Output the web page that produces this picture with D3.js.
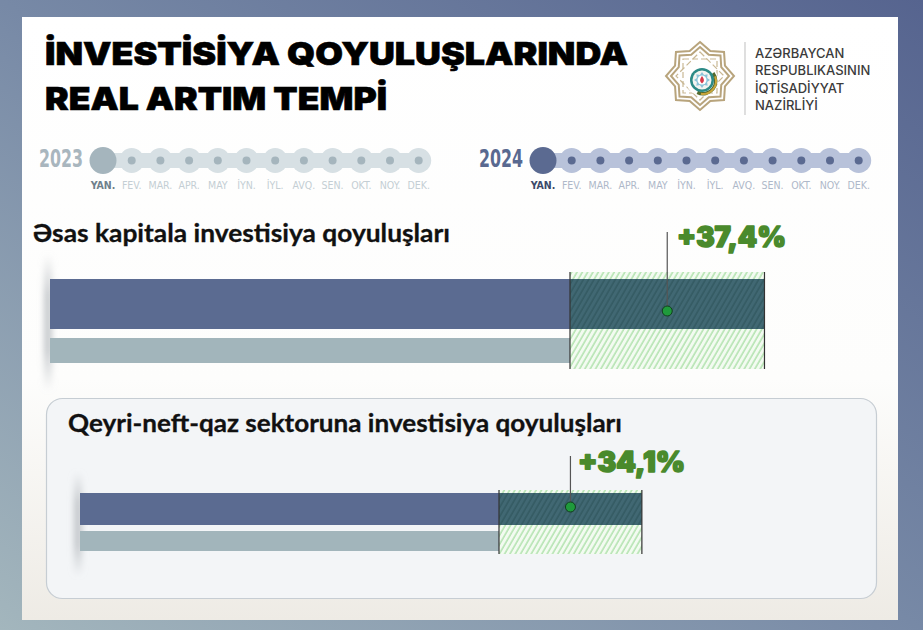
<!DOCTYPE html>
<html><head><meta charset="utf-8">
<script src="https://cdn.jsdelivr.net/npm/d3@7"></script>
<style>body{margin:0;background:#fff;} svg{display:block;}</style>
</head><body><svg id="c" width="923" height="630"></svg>
<script>
// ---------- data ----------
const titleLines = ["İNVESTİSİYA QOYULUŞLARINDA", "REAL ARTIM TEMPİ"];
const ministryLines = ["AZƏRBAYCAN", "RESPUBLIKASININ", "İQTİSADİYYAT", "NAZİRLİYİ"];
const years = ["2023", "2024"];
const months = ["YAN.", "FEV.", "MAR.", "APR.", "MAY", "İYN.", "İYL.", "AVQ.", "SEN.", "OKT.", "NOY.", "DEK."];
const monthsCovered = [1, 1];
const categories = ["Əsas kapitala investisiya qoyuluşları", "Qeyri-neft-qaz sektoruna investisiya qoyuluşları"];
const value2023 = [100, 100];
const value2024 = [137.4, 134.1];
const growthLabels = ["+37,4%", "+34,1%"];

// ---------- layout ----------
const W = 923, H = 630;
const svg = d3.select("#c");
const defs = svg.append("defs");

const frameGrad = defs.append("linearGradient").attr("id", "frame")
  .attr("x1", "0").attr("y1", "1").attr("x2", "1").attr("y2", "0");
frameGrad.append("stop").attr("offset", "0").attr("stop-color", "#a3b6bd");
frameGrad.append("stop").attr("offset", "0.5").attr("stop-color", "#7789a6");
frameGrad.append("stop").attr("offset", "1").attr("stop-color", "#56648f");

const cardGrad = defs.append("linearGradient").attr("id", "card")
  .attr("x1", "0").attr("y1", "0").attr("x2", "0").attr("y2", "1");
cardGrad.append("stop").attr("offset", "0").attr("stop-color", "#ffffff");
cardGrad.append("stop").attr("offset", "0.6").attr("stop-color", "#fdfdfc");
cardGrad.append("stop").attr("offset", "1").attr("stop-color", "#eeebe5");

function hatch(id, bg, line) {
  const p = defs.append("pattern").attr("id", id).attr("patternUnits", "userSpaceOnUse")
    .attr("width", 4.6).attr("height", 10).attr("patternTransform", "rotate(30)");
  p.append("rect").attr("width", 4.6).attr("height", 10).attr("fill", bg);
  p.append("line").attr("x1", 1).attr("x2", 1).attr("y1", 0).attr("y2", 10)
    .attr("stroke", line).attr("stroke-width", 1.3);
}
hatch("hatchLight", "#f3fbf1", "#a8dea4");
hatch("hatchDark", "#416873", "#31585f");

const blur = defs.append("filter").attr("id", "blur").attr("x", "-200%").attr("width", "500%");
blur.append("feGaussianBlur").attr("stdDeviation", 3);
const shGrad = defs.append("linearGradient").attr("id", "shadow")
  .attr("x1", "0").attr("y1", "0").attr("x2", "0").attr("y2", "1");
shGrad.append("stop").attr("offset", "0").attr("stop-color", "#b8bcc0").attr("stop-opacity", 0);
shGrad.append("stop").attr("offset", "0.3").attr("stop-color", "#b8bcc0").attr("stop-opacity", 0.8);
shGrad.append("stop").attr("offset", "0.7").attr("stop-color", "#b8bcc0").attr("stop-opacity", 0.8);
shGrad.append("stop").attr("offset", "1").attr("stop-color", "#b8bcc0").attr("stop-opacity", 0);

// frame and card
svg.append("rect").attr("width", W).attr("height", H).attr("fill", "url(#frame)");
svg.append("rect").attr("x", 22).attr("y", 17).attr("width", 876).attr("height", 603).attr("fill", "url(#card)");

// ---------- title ----------
const titleW = [583, 342];
svg.selectAll("text.title").data(titleLines).join("text")
  .attr("class", "title")
  .attr("x", 45).attr("y", (d, i) => 65 + i * 45)
  .attr("font-family", "Inter, Lato, sans-serif").attr("font-weight", 900)
  .attr("font-size", 32).attr("fill", "#000")
  .attr("stroke", "#000").attr("stroke-width", 0.6)
  .attr("textLength", (d, i) => titleW[i]).attr("lengthAdjust", "spacingAndGlyphs")
  .text(d => d);

// ---------- logo ----------
const logo = svg.append("g").attr("transform", "translate(700,76)");
function starPts(ro, ri) {
  const pts = [];
  for (let k = 0; k < 16; k++) {
    const a = Math.PI / 8 * k - Math.PI / 2;
    const r = k % 2 === 0 ? ro : ri;
    pts.push([r * Math.cos(a), r * Math.sin(a)]);
  }
  return pts;
}
const lineGen = d3.line().curve(d3.curveLinearClosed);
[[34, 27], [29, 23]].forEach(([ro, ri]) => {
  logo.append("path").attr("d", lineGen(starPts(ro, ri)))
    .attr("fill", "none").attr("stroke", "#b8a47c").attr("stroke-width", 2);
});
[0, 45].forEach(rot => {
  logo.append("rect").attr("x", -17).attr("y", -17).attr("width", 34).attr("height", 34)
    .attr("transform", `rotate(${rot})`).attr("fill", "none")
    .attr("stroke", "#c9b894").attr("stroke-width", 1.2).attr("stroke-dasharray", "6 3");
});
logo.append("circle").attr("cx", 2).attr("cy", 4).attr("r", 16).attr("fill", "#fff");
logo.append("path")
  .attr("d", d3.arc()({innerRadius: 11, outerRadius: 14.5, startAngle: 0.9, endAngle: 3.6}))
  .attr("transform", "translate(3,5)").attr("fill", "#556b2f");
logo.append("path")
  .attr("d", d3.arc()({innerRadius: 12, outerRadius: 14, startAngle: 1.2, endAngle: 3.3}))
  .attr("transform", "translate(3,5)").attr("fill", "#c9a53a");
logo.append("circle").attr("cx", 2).attr("cy", 4).attr("r", 12).attr("fill", "#2c8a86");
logo.append("circle").attr("cx", 2).attr("cy", 4).attr("r", 9.5).attr("fill", "#f4f4f0");
logo.append("path").attr("d", lineGen(starPts(8, 5.5)))
  .attr("transform", "translate(2,4)").attr("fill", "#8cc4d8");
logo.append("circle").attr("cx", 2).attr("cy", 4).attr("r", 4.5).attr("fill", "#fff");
logo.append("path").attr("d", "M2,0 C4,3 5,5 2,7.5 C-1,5 0,3 2,0 Z").attr("fill", "#d9394a");

svg.append("line").attr("x1", 745).attr("x2", 745).attr("y1", 42).attr("y2", 115)
  .attr("stroke", "#c9c9c9").attr("stroke-width", 1.2);
svg.selectAll("text.min").data(ministryLines).join("text")
  .attr("class", "min")
  .attr("x", 755).attr("y", (d, i) => 58 + i * 17.4)
  .attr("font-family", "Inter, 'Noto Sans', sans-serif").attr("font-weight", 500)
  .attr("font-size", 13).attr("fill", "#3b3b3b")
  .text(d => d);

// ---------- timelines ----------
const tlStyles = [
  {start: 103, big: "#a5b5bd", chain: "#d7e0e4", year: "#a9b6be", act: "#6f808b", off: "#c4ced4"},
  {start: 543, big: "#5b6a91", chain: "#b8c2da", year: "#596990", act: "#3c4969", off: "#aeb8c9"}
];
years.forEach((yr, yi) => {
  const st = tlStyles[yi];
  const xm = d3.scalePoint().domain(months).range([st.start, st.start + 11 * 28.7]);
  const g = svg.append("g");
  g.append("text").attr("x", st.start - 20).attr("y", 167).attr("text-anchor", "end")
    .attr("font-family", "'Liberation Sans Narrow', 'DejaVu Sans Condensed', sans-serif")
    .attr("font-weight", 700).attr("font-size", 24).attr("fill", st.year)
    .attr("textLength", 44).attr("lengthAdjust", "spacingAndGlyphs").text(yr);
  g.append("rect").attr("x", xm(months[0])).attr("y", 153).attr("width", xm(months[11]) - xm(months[0]))
    .attr("height", 15).attr("fill", st.chain);
  g.selectAll("circle.ch").data(months.filter((m, i) => i >= monthsCovered[yi])).join("circle")
    .attr("cx", d => xm(d)).attr("cy", 160.5).attr("r", 12.5).attr("fill", st.chain);
  g.selectAll("circle.dot").data(months.filter((m, i) => i >= monthsCovered[yi])).join("circle")
    .attr("cx", d => xm(d)).attr("cy", 160.5).attr("r", 4).attr("fill", st.big);
  g.selectAll("circle.big").data(months.filter((m, i) => i < monthsCovered[yi])).join("circle")
    .attr("cx", d => xm(d)).attr("cy", 160.5).attr("r", 13.5).attr("fill", st.big);
  g.selectAll("text.m").data(months).join("text")
    .attr("x", d => xm(d)).attr("y", 189).attr("text-anchor", "middle")
    .attr("font-family", "'Liberation Sans Narrow', 'DejaVu Sans Condensed', sans-serif")
    .attr("font-weight", (d, i) => i < monthsCovered[yi] ? 700 : 400)
    .attr("font-size", 10.5)
    .attr("fill", (d, i) => i < monthsCovered[yi] ? st.act : st.off)
    .text(d => d);
});

// ---------- second panel ----------
svg.append("rect").attr("x", 46.5).attr("y", 398.5).attr("width", 830).attr("height", 200)
  .attr("rx", 16).attr("fill", "#f3f5f7").attr("stroke", "#c6cdd3").attr("stroke-width", 1.2);

// ---------- bar charts ----------
const charts = [
  {x0: 50, x100: 570, darkY: 279, darkH: 50, greyY: 338, greyH: 25, hTop: 272, hBot: 369,
   markerY: 311, lineTop: 232, labelX: 677, labelY: 247, labelW: 109, titleX: 33, titleY: 242, titleW: 417},
  {x0: 80, x100: 499, darkY: 493, darkH: 32, greyY: 531, greyH: 20, hTop: 490, hBot: 554,
   markerY: 507, lineTop: 456, labelX: 578, labelY: 472, labelW: 107, titleX: 68, titleY: 432, titleW: 554}
];

categories.forEach((cat, i) => {
  const c = charts[i];
  const x = d3.scaleLinear().domain([0, 100]).range([c.x0, c.x100]);
  const g = svg.append("g");
  g.append("text").attr("x", c.titleX).attr("y", c.titleY)
    .attr("font-family", "Lato, Inter, sans-serif").attr("font-weight", 700)
    .attr("font-size", 24).attr("fill", "#111")
    .attr("stroke", "#111").attr("stroke-width", 0.3)
    .attr("textLength", c.titleW).attr("lengthAdjust", "spacingAndGlyphs").text(cat);

  // left soft shadow
  g.append("rect").attr("x", x(0) - 6).attr("y", c.hTop - 18).attr("width", 8)
    .attr("height", c.hBot - c.hTop + 40).attr("fill", "url(#shadow)").attr("filter", "url(#blur)");

  const x1 = x(value2023[i]), x2 = x(value2024[i]);
  g.append("rect").attr("x", x(0)).attr("y", c.greyY).attr("width", x1 - x(0)).attr("height", c.greyH)
    .attr("fill", "#a2b5bb");
  g.append("rect").attr("x", x(0)).attr("y", c.darkY).attr("width", x1 - x(0)).attr("height", c.darkH)
    .attr("fill", "#5b6b91");
  g.append("rect").attr("x", x1).attr("y", c.hTop).attr("width", x2 - x1).attr("height", c.hBot - c.hTop)
    .attr("fill", "url(#hatchLight)");
  g.append("rect").attr("x", x1).attr("y", c.darkY).attr("width", x2 - x1).attr("height", c.darkH)
    .attr("fill", "url(#hatchDark)");
  [x1, x2].forEach(xx => g.append("line").attr("x1", xx).attr("x2", xx).attr("y1", c.hTop).attr("y2", c.hBot)
    .attr("stroke", "#333").attr("stroke-width", 1.2));

  const mx = (x1 + x2) / 2;
  g.append("line").attr("x1", mx).attr("x2", mx).attr("y1", c.lineTop).attr("y2", c.markerY)
    .attr("stroke", "#555").attr("stroke-width", 1.2);
  g.append("circle").attr("cx", mx).attr("cy", c.markerY).attr("r", 5)
    .attr("fill", "#1f9a3c").attr("stroke", "#123d1e").attr("stroke-width", 1);
  g.append("text").attr("x", c.labelX).attr("y", c.labelY)
    .attr("font-family", "Inter, Lato, sans-serif").attr("font-weight", 900)
    .attr("font-size", 28).attr("fill", "#4a8a2c")
    .attr("stroke", "#4a8a2c").attr("stroke-width", 1.6).attr("stroke-linejoin", "round")
    .attr("textLength", c.labelW).attr("lengthAdjust", "spacingAndGlyphs")
    .text(growthLabels[i]);
});
</script>
</body></html>
